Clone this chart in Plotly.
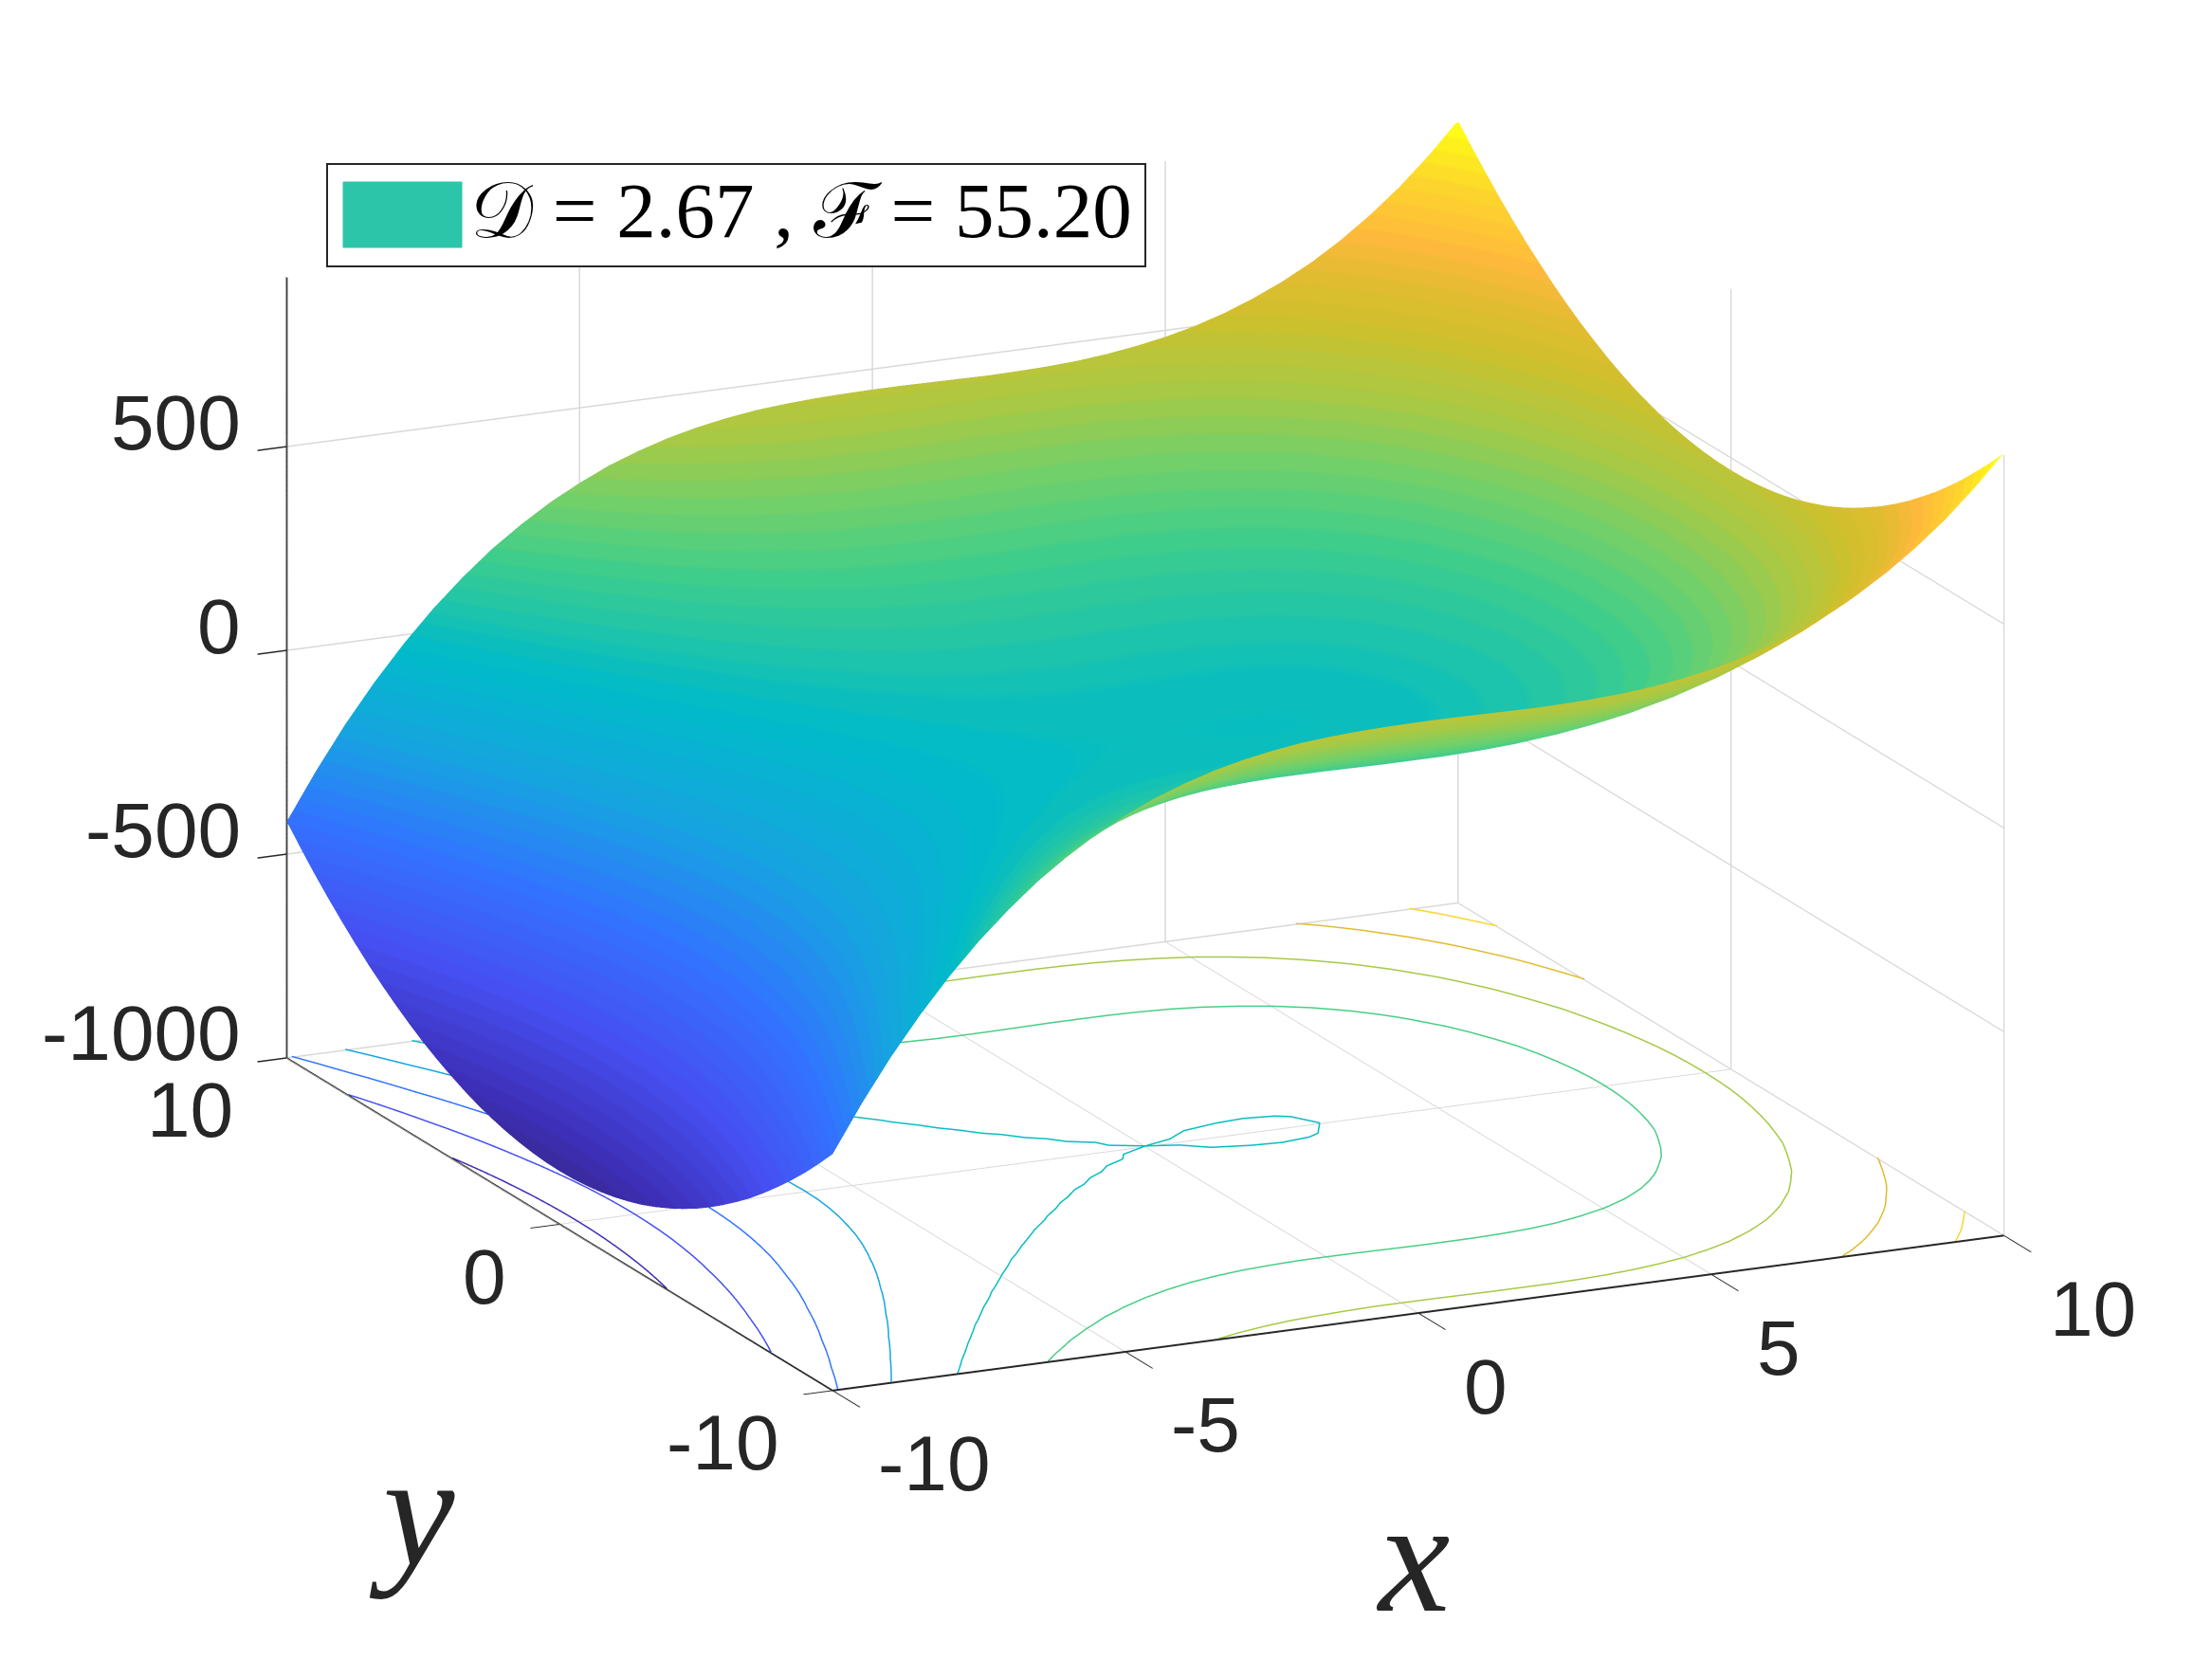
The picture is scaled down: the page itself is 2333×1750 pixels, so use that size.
import plotly.graph_objects as go

# Surface heights: one list per |y| row, one value per x column (the sheet mirrors in y)
x_vals = [v/2 for v in range(-20,21)]
y_abs = [v/2 for v in range(0,21)]
z_y00 = [-870,-754.9,-650.4,-556,-471,-395.2,-327.8,-268.5,-216.7,-172,-133.8,-101.5,-74.9,-53.2,-36.1,-23,-13.4,-6.8,-2.7,-0.6,0,-0.4,-1.3,-2.2,-2.6,-2,0.1,4.2,10.9,20.5,33.8,51,72.7,99.5,131.8,170.2,215,267,326.4,393.9,470]
z_y05 = [-869,-754,-649,-555,-470,-394,-327,-267.4,-215.6,-170.9,-132.7,-100.4,-73.8,-52.1,-35,-21.9,-12.3,-5.7,-1.6,0.5,1.1,0.7,-0.2,-1.1,-1.5,-0.9,1.2,5.3,12,21.6,34.9,52.1,73.8,100.6,132.9,171.3,216,268,327.5,395,471]
z_y10 = [-865.5,-750.4,-645.9,-551.5,-466.5,-390.7,-323.3,-264,-212.2,-167.5,-129.3,-97,-70.4,-48.7,-31.6,-18.5,-8.9,-2.3,1.8,3.9,4.5,4.1,3.2,2.3,1.9,2.5,4.6,8.7,15.4,25,38.3,55.5,77.2,104,136.3,174.7,219.5,271.5,330.9,398.4,474.5]
z_y15 = [-859.9,-744.8,-640.3,-545.9,-460.9,-385.1,-317.7,-258.4,-206.6,-161.9,-123.7,-91.4,-64.8,-43.1,-26,-12.9,-3.3,3.3,7.4,9.5,10.1,9.7,8.8,7.9,7.5,8.1,10.2,14.3,21,30.6,43.9,61.1,82.8,109.6,141.9,180.3,225.1,277.1,336.5,404,480.1]
z_y20 = [-852,-737,-632,-538,-453,-377,-310,-250,-199,-154,-116,-83,-57,-35,-18,-5,5,11,15,17,18,18,17,16,15,16,18,22,29,39,52,69,91,117,150,188,233,285,344,412,488]
z_y25 = [-842,-727,-622,-528,-443,-367,-300,-240,-189,-144,-106,-73,-47,-25,-8,5,15,21,25,28,28,28,27,26,26,26,28,32,39,49,62,79,101,128,160,198,243,295,355,422,498]
z_y30 = [-830,-714,-610,-516,-431,-355,-287,-228,-176,-132,-93,-61,-34,-13,4,18,27,34,38,40,41,40,39,38,38,39,41,45,51,61,74,92,113,140,172,211,256,308,367,434,511]
z_y35 = [-815,-700,-595,-501,-416,-340,-273,-213,-162,-117,-79,-46,-20,2,19,32,42,48,52,55,55,55,54,53,53,53,55,59,66,76,89,106,128,155,187,225,270,322,382,449,525]
z_y40 = [-798,-683,-578,-484,-399,-323,-256,-197,-145,-100,-62,-30,-3,19,36,49,59,65,69,71,72,72,71,70,69,70,72,76,83,93,106,123,145,172,204,242,287,339,398,466,542]
z_y45 = [-779,-664,-559,-465,-380,-304,-237,-177,-126,-81,-43,-10,16,38,55,68,78,84,88,91,91,91,90,89,89,89,91,95,102,112,125,142,164,191,223,261,306,358,418,485,561]
z_y50 = [-758,-642,-538,-444,-359,-283,-215,-156,-104,-60,-21,11,38,59,76,90,99,106,110,112,113,112,111,110,110,111,113,117,123,133,146,164,185,212,244,283,328,380,439,506,583]
z_y55 = [-734,-619,-514,-420,-335,-259,-192,-132,-81,-36,2,35,61,83,100,113,123,129,133,136,136,136,135,134,134,134,136,140,147,157,170,187,209,236,268,306,351,403,463,530,606]
z_y60 = [-708,-593,-488,-394,-309,-233,-166,-107,-55,-10,28,61,87,109,126,139,149,155,159,161,162,162,161,160,159,160,162,166,173,183,196,213,235,262,294,332,377,429,488,556,632]
z_y65 = [-680,-565,-460,-366,-281,-205,-138,-78,-27,18,56,89,115,137,154,167,177,183,187,190,190,190,189,188,188,188,190,194,201,211,224,241,263,290,322,360,405,457,517,584,660]
z_y70 = [-650,-534,-430,-336,-251,-175,-107,-48,4,49,87,119,146,167,184,198,207,214,218,220,221,220,219,218,218,219,221,225,231,241,254,272,293,320,352,391,436,488,547,614,691]
z_y75 = [-617,-502,-397,-303,-218,-142,-75,-15,36,81,119,152,178,200,217,230,240,246,250,253,253,253,252,251,251,251,253,257,264,274,287,304,326,353,385,423,468,520,580,647,723]
z_y80 = [-582,-467,-362,-268,-183,-107,-40,20,71,116,154,187,213,235,252,265,275,281,285,287,288,288,287,286,285,286,288,292,299,309,322,339,361,388,420,458,503,555,614,682,758]
z_y85 = [-545,-430,-325,-231,-146,-70,-3,57,108,153,191,224,250,272,289,302,312,318,322,325,325,325,324,323,323,323,325,329,336,346,359,376,398,425,457,495,540,592,652,719,795]
z_y90 = [-506,-390,-286,-192,-107,-31,37,96,148,193,231,263,290,311,328,342,351,358,362,364,365,364,363,362,362,363,365,369,375,385,398,416,437,464,496,535,580,632,691,758,835]
z_y95 = [-464,-349,-244,-150,-65,11,78,138,189,234,272,305,331,353,370,383,393,399,403,406,406,406,405,404,404,404,406,410,417,427,440,457,479,506,538,576,621,673,733,800,876]
z_y100 = [-420,-305,-200,-106,-21,55,122,182,233,278,316,349,375,397,414,427,437,443,447,449,450,450,449,448,447,448,450,454,461,471,484,501,523,550,582,620,665,717,776,844,920]
z_half = [z_y00,z_y05,z_y10,z_y15,z_y20,z_y25,z_y30,z_y35,z_y40,z_y45,z_y50,z_y55,z_y60,z_y65,z_y70,z_y75,z_y80,z_y85,z_y90,z_y95,z_y100]
assert all(len(r) == len(x_vals) for r in z_half)

contour_levels = [-800,-600,-400,-200,0,200,400,600,800]
x_ticks = [-10,-5,0,5,10]
y_ticks = [-10,0,10]
z_ticks = [-1000,-500,0,500]
legend_text = "𝒟 = 2.67 , ℱ = 55.20"

y_vals = [-v for v in y_abs[:0:-1]] + y_abs
z_grid = z_half[:0:-1] + z_half

CMIN, CMAX = -870, 920
anchors = [(0.0,"#3a2a9a"),(0.039,"#3d2fb8"),(0.151,"#4650f2"),(0.263,"#3274ff"),(0.367,"#16a4e0"),(0.472,"#00bbc8"),
           (0.585,"#3ecd8c"),(0.645,"#6fd06c"),(0.71,"#a6c945"),(0.78,"#cfc02c"),(0.82,"#dfbc30"),(0.87,"#ffb93c"),
           (0.933,"#fcd52c"),(1.0,"#ffff14")]

def rgb(h):
    return tuple(int(h[i:i+2],16) for i in (1,3,5))
def cmap(t):
    t = max(0.0,min(1.0,t))
    for (a,ca),(b,cb) in zip(anchors,anchors[1:]):
        if t <= b:
            f = (t-a)/(b-a)
            p,q = rgb(ca),rgb(cb)
            return "rgb(%d,%d,%d)" % tuple(round(p[i]+(q[i]-p[i])*f) for i in range(3))
    return anchors[-1][1]

NB = 64
stepped = []
for k in range(NB):
    c = cmap((k+0.5)/NB)
    stepped += [[k/NB,c],[(k+1)/NB,c]]

def contour_polylines(level):
    segs = []
    def cross(x1,y1,z1,x2,y2,z2):
        t = (level-z1)/(z2-z1)
        return (round(x1+(x2-x1)*t,6), round(y1+(y2-y1)*t,6))
    for j in range(len(y_vals)-1):
        for i in range(len(x_vals)-1):
            c = [(x_vals[i],y_vals[j],z_grid[j][i]),(x_vals[i+1],y_vals[j],z_grid[j][i+1]),
                 (x_vals[i+1],y_vals[j+1],z_grid[j+1][i+1]),(x_vals[i],y_vals[j+1],z_grid[j+1][i])]
            pts = []
            for a,b in zip(c,c[1:]+c[:1]):
                if (a[2] > level) != (b[2] > level):
                    pts.append(cross(*a,*b))
            for k in range(0,len(pts)-1,2):
                if pts[k] != pts[k+1]:
                    segs.append((pts[k],pts[k+1]))
    lines = []
    while segs:
        line = list(segs.pop())
        grown = True
        while grown:
            grown = False
            for s in segs:
                if s[0] == line[-1]: line.append(s[1])
                elif s[1] == line[-1]: line.append(s[0])
                elif s[0] == line[0]: line.insert(0,s[1])
                elif s[1] == line[0]: line.insert(0,s[0])
                else: continue
                segs.remove(s)
                grown = True
                break
        lines.append(line)
    return lines

fig = go.Figure()
fig.add_trace(go.Surface(x=x_vals,y=y_vals,z=z_grid,colorscale=stepped,cmin=CMIN,cmax=CMAX,showscale=False,
                         hoverinfo="skip",
                         lighting=dict(ambient=1,diffuse=0,specular=0,roughness=1,fresnel=0)))
FLOOR = -998  # a hair above the axis floor so the lines are not clipped at the bound
for lev in contour_levels:
    for line in contour_polylines(lev):
        fig.add_trace(go.Scatter3d(x=[p[0] for p in line],y=[p[1] for p in line],z=[FLOOR]*len(line),mode="lines",
                                   line=dict(color=cmap((lev-CMIN)/(CMAX-CMIN)),width=3),
                                   showlegend=False,hoverinfo="skip"))

TXT = "#262626"
def axis(rng,ticks,ticklen=34):
    return dict(range=rng,tickvals=ticks,showticklabels=False,title=dict(text=""),ticks="outside",ticklen=ticklen,tickwidth=3,
                tickcolor=TXT,showline=True,linecolor=TXT,linewidth=4,gridcolor="#d8d8d8",gridwidth=3,
                zeroline=False,showbackground=False,showspikes=False)

TF = dict(family="Liberation Sans",size=82,color=TXT)
ann = []
for v in z_ticks:
    ann.append(dict(x=-10,y=10,z=v,text=str(v),showarrow=False,xanchor="right",yanchor="middle",xshift=-46,yshift=26,font=TF))
for v in y_ticks:
    ann.append(dict(x=-10,y=v,z=-1000,text=str(v),showarrow=False,xanchor="right",yanchor="middle",xshift=-54,yshift=-55,font=TF))
for v in x_ticks:
    ann.append(dict(x=v,y=-10,z=-1000,text=str(v),showarrow=False,xanchor="left",yanchor="middle",xshift=46,yshift=-77,font=TF))

W,H = 2333,1750
fig.update_layout(width=W,height=H,margin=dict(l=0,r=0,t=0,b=0),paper_bgcolor="white",showlegend=False,
    scene=dict(domain=dict(x=[0.0356,1],y=[0.088,1]),
        xaxis=axis([-10,10],x_ticks,34),yaxis=axis([-10,10],y_ticks,68),zaxis=axis([-1000,915],z_ticks,34),
        aspectmode="manual",aspectratio=dict(x=1.708,y=1.708,z=1.076),
        camera=dict(projection=dict(type="orthographic"),eye=dict(x=-0.81,y=-1.738,z=0.568),
                    up=dict(x=0,y=0,z=1),center=dict(x=0,y=0,z=0)),
        annotations=ann),
    shapes=[dict(type="rect",xref="paper",yref="paper",x0=345/W,x1=1208/W,y0=1-281/H,y1=1-173/H,
                 line=dict(color="#262626",width=2),fillcolor="white"),
            dict(type="rect",xref="paper",yref="paper",x0=362/W,x1=487/W,y0=1-261/H,y1=1-192/H,
                 line=dict(color="#2cc5a9",width=1),fillcolor="#2cc5a9")],
    annotations=[
        dict(xref="paper",yref="paper",x=494/W,y=1-222/H,text=legend_text,showarrow=False,xanchor="left",yanchor="middle",
             font=dict(family="Liberation Serif, DejaVu Serif, serif",size=83,color="black")),
        dict(xref="paper",yref="paper",x=387/W,y=1-1689/H,text="<i>y</i>",showarrow=False,font=dict(family="Liberation Serif",size=170,color=TXT)),
        dict(xref="paper",yref="paper",x=1490/W,y=1-1738/H,text="<i>x</i>",showarrow=False,font=dict(family="Liberation Serif",size=170,color=TXT)),
    ])
fig.write_html("out.html",config=dict(displayModeBar=False),post_script="document.body.style.margin='0';")
